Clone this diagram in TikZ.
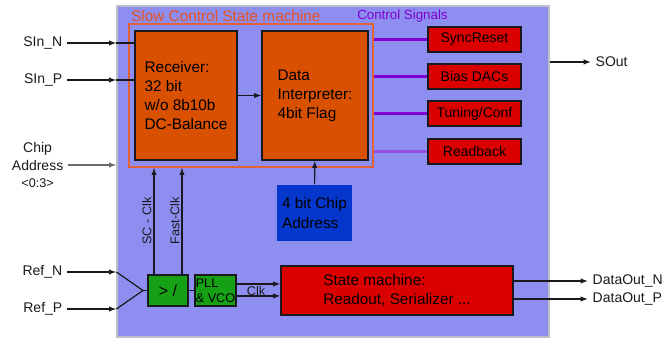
\documentclass[tikz,border=0pt]{standalone}
\usepackage{fontspec}
\setmainfont{Liberation Sans}
\usetikzlibrary{arrows.meta}
\definecolor{ink}{RGB}{25,25,30}
\definecolor{chipfill}{RGB}{142,142,240}
\definecolor{chipline}{RGB}{190,190,200}
\definecolor{scorange}{RGB}{217,80,0}
\definecolor{scframe}{RGB}{226,98,52}
\definecolor{sctext}{RGB}{232,82,30}
\definecolor{ctrlred}{RGB}{218,0,0}
\definecolor{ctrlpurple}{RGB}{128,0,210}
\definecolor{ctrlpurplelight}{RGB}{150,80,225}
\definecolor{clkgreen}{RGB}{22,160,22}
\definecolor{addrblue}{RGB}{5,55,205}
\definecolor{wiregrey}{RGB}{105,105,110}
\tikzset{
  font=\fontsize{10.5}{13}\selectfont,
  block/.style={draw=ink, line width=0.8pt, align=left, inner sep=0pt,
    font=\fontsize{11.5}{14.3}\selectfont},
  scBlock/.style={block, fill=scorange, minimum height=96.75pt},
  ctrlBlock/.style={block, fill=ctrlred, minimum width=69.75pt, minimum height=18.75pt,
    font=\fontsize{10.5}{13}\selectfont},
  clkBlock/.style={block, fill=clkgreen, minimum height=23.25pt},
  addrBlock/.style={block, draw=none, fill=addrblue, minimum width=56.25pt, minimum height=42pt},
  pin/.style={font=\fontsize{10.5}{13}\selectfont, text=ink},
  arrow/.style={-{Latex[length=5.5pt,width=4pt]}, line width=0.9pt, draw=ink},
  greyArrow/.style={arrow, draw=wiregrey},
  wire/.style={line width=0.9pt, draw=ink},
  ctrlLine/.style={line width=1.6pt, draw=ctrlpurple},
  smallLabel/.style={font=\fontsize{9.5}{11.5}\selectfont, text=ink, inner sep=1.5pt}
}
\begin{document}
\begin{tikzpicture}[x=0.75pt,y=-0.75pt]
\useasboundingbox (0,0) rectangle (664,338);

% Chip outline
\node[draw=chipline, line width=0.9pt, fill=chipfill, minimum width=324pt, minimum height=248.25pt] (chip) at (333,171.5) {};

% Slow control block
\node[draw=scframe, line width=0.9pt, minimum width=183pt, minimum height=107.25pt] (scFrame) at (251,95.5) {};
\node[text=sctext, anchor=west, inner sep=0pt, font=\fontsize{11.5}{13}\selectfont] (scTitle) at (131,16) {Slow Control State machine};
\node[text=ctrlpurple, anchor=west, inner sep=0pt, font=\fontsize{10}{12}\selectfont] (ctrlTitle) at (357,16) {Control Signals};

\node[scBlock, minimum width=76.5pt] (rx) at (186,95.5) {Receiver:\\32 bit\\w/o 8b10b\\DC-Balance};
\node[scBlock, minimum width=79.5pt] (interp) at (315,95.5) {Data\\Interpreter:\\4bit Flag};
\draw[arrow] (rx) -- (interp);

% Control outputs
\node[ctrlBlock] (sync) at (474.5,39.5) {SyncReset};
\node[ctrlBlock] (bias) at (474.5,76.5) {Bias DACs};
\node[ctrlBlock] (tune) at (474.5,113.5) {Tuning/Conf};
\node[ctrlBlock] (rdback) at (474.5,151.5) {Readback};
\draw[ctrlLine] (sync.west -| scFrame.east) -- (sync.west);
\draw[ctrlLine] (bias.west -| scFrame.east) -- (bias.west);
\draw[ctrlLine] (tune.west -| scFrame.east) -- (tune.west);
\draw[ctrlLine, draw=ctrlpurplelight] (rdback.west -| scFrame.east) -- (rdback.west);

% Chip address
\node[addrBlock] (addr) at (314.5,213) {4 bit Chip\\Address};
\draw[arrow] (addr) -- (interp);

% Serial inputs
\node[pin, anchor=east] (sinN) at (67,43) {SIn\_N};
\node[pin, anchor=east] (sinP) at (67,80) {SIn\_P};
\draw[arrow] (sinN) -- (sinN -| chip.west);
\draw[wire] (sinN -| chip.west) -- (sinN -| rx.west);
\draw[arrow] (sinP) -- (sinP -| chip.west);
\draw[wire] (sinP -| chip.west) -- (sinP -| rx.west);

\node[pin, align=center, anchor=east] (chipAddr) at (68,165)
  {Chip\\Address\\{\fontsize{9.5}{11}\selectfont <0:3>}};
\draw[greyArrow] (chipAddr) -- (chipAddr -| chip.west);

\node[pin, anchor=west] (sout) at (591,62) {SOut};
\draw[arrow] (sout -| chip.east) -- (sout);

% Clocking
\node[clkBlock, minimum width=30pt, font=\fontsize{12}{14}\selectfont, align=center] (div) at (168,290.5) {> /};
\node[clkBlock, minimum width=30.75pt, font=\fontsize{9.5}{11.5}\selectfont] (pll) at (215.5,290.5) {PLL\\\& VCO};
\coordinate (refJoin) at (143,290.5);

\node[pin, anchor=east] (refN) at (67,272) {Ref\_N};
\node[pin, anchor=east] (refP) at (67,309) {Ref\_P};
\draw[arrow] (refN) -- (refN -| chip.west);
\draw[arrow] (refP) -- (refP -| chip.west);
\draw[wire] (refN -| chip.west) -- (refJoin) -- (refP -| chip.west);
\draw[wire] (refJoin) -- (div);
\draw[wire] (div) -- (pll);

\draw[arrow] ([xshift=-10.5pt]div.north) -- ([xshift=-10.5pt]div.north |- scFrame.south)
  node[smallLabel, midway, sloped, above] {SC - Clk};
\draw[arrow] ([xshift=10.5pt]div.north) -- ([xshift=10.5pt]div.north |- scFrame.south)
  node[smallLabel, midway, sloped, above] {Fast-Clk};

% Readout state machine
\node[block, fill=ctrlred, minimum width=174pt, minimum height=36.75pt] (sm) at (397,290.5)
  {State machine:\\Readout, Serializer ...};
\draw[arrow] ([yshift=4.9pt]pll.east) -- ([yshift=4.9pt]pll.east -| sm.west);
\draw[arrow] ([yshift=-4.1pt]pll.east) -- ([yshift=-4.1pt]pll.east -| sm.west);
\node[smallLabel] (clk) at (256,290.5) {Clk};

\node[pin, anchor=west] (doutN) at (588,281) {DataOut\_N};
\node[pin, anchor=west] (doutP) at (588,299) {DataOut\_P};
\draw[arrow] (doutN -| sm.east) -- (doutN.west);
\draw[arrow] (doutP -| sm.east) -- (doutP.west);

\end{tikzpicture}
\end{document}
